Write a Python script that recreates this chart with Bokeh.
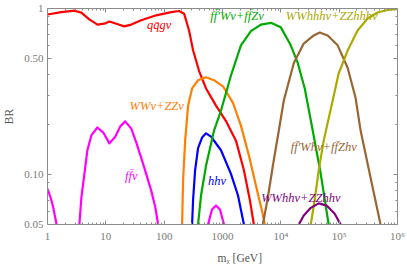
import math
from bokeh.plotting import figure
from bokeh.models import Range1d, FixedTicker, LogAxis, Label
from bokeh.embed import file_html
from bokeh.resources import INLINE

NaN = float("nan")

# ---- data (mass in GeV, branching ratio) ----
m_qqg = [1, 1.73, 2.9, 3.8, 5.2, 7.2, 9.4, 11.5, 15.1, 20.7, 27.3, 40.4, 73, 132, 180,
         220, 267, 313, 397, 522, 774, 1148, 1700, 2330, 2950, 3450]
br_qqg = [0.92, 0.95, 0.97, 0.945, 0.86, 0.80, 0.81, 0.835, 0.81, 0.78, 0.80, 0.85, 0.91, 0.95, 0.966,
          0.93, 0.737, 0.56, 0.42, 0.33, 0.26, 0.21, 0.16, 0.106, 0.070, 0.05]

m_ww = [203, 211, 229, 257, 301, 381, 522, 716, 1020, 1513, 2070, 2840, 3740, 4730, 5320]
br_ww = [0.05, 0.092, 0.16, 0.26, 0.33, 0.37, 0.385, 0.37, 0.34, 0.27, 0.197, 0.13, 0.086, 0.061, 0.05]

m_ffv = [1, 1.17, 1.27, 1.43, NaN,
         3.52, 3.81, 4.29, 4.83, 5.65, 7.16, 9.06, 11.5, 14.5, 17.7, 21.5, 27.3, 33.2, 40.4, 49.2, 60, 70.2, 78.9, NaN,
         565, 661, 774, 906, 1061]
br_ffv = [0.082, 0.070, 0.062, 0.05, NaN,
          0.05, 0.0727, 0.101, 0.14, 0.172, 0.192, 0.179, 0.154, 0.169, 0.195, 0.209, 0.189, 0.156, 0.126, 0.101, 0.080, 0.064, 0.05, NaN,
          0.05, 0.0615, 0.065, 0.0615, 0.05]

m_hhv = [301, 313, 339, 381, 446, 522, 636, 943, 1396, 1840, 2330]
br_hhv = [0.05, 0.07, 0.106, 0.144, 0.167, 0.177, 0.169, 0.14, 0.101, 0.075, 0.05]

m_ffw = [381, 429, 522, 716, 943, 1396, 2070, 3070, 4550, 6740, 10000, 14800, 19500, 25700, 35200, 48300, 66100]
br_ffw = [0.05, 0.075, 0.113, 0.184, 0.243, 0.395, 0.60, 0.73, 0.80, 0.82, 0.77, 0.60, 0.47, 0.33, 0.184, 0.101, 0.05]

m_ffwh = [4920, 6000, 7300, 9240, 11250, 16700, 24700, 36600, 46400, 63600, 94200, 139600, 191000, 233000, 345000, 512000]
br_ffwh = [0.05, 0.073, 0.113, 0.184, 0.279, 0.47, 0.615, 0.688, 0.717, 0.688, 0.60, 0.44, 0.29, 0.184, 0.096, 0.05]

m_wwhhh = [32600, 38000, 44600, 54300, 77400, 98000, 139600, 207000, 307000, 455000, 675000, 1000000]
br_wwhhh = [0.05, 0.070, 0.106, 0.16, 0.279, 0.406, 0.558, 0.737, 0.87, 0.946, 0.98, 0.993]

m_wwhh = [20300, 24700, 32600, 44600, 61100, 83800, 106000]
br_wwhh = [0.05, 0.0566, 0.063, 0.067, 0.065, 0.058, 0.05]

x_ticks = [1, 10, 100, 1000, 10000, 100000, 1000000]
x_tick_labels = ["1", "10", "100", "1000", "10\u2074", "10\u2075", "10\u2076"]
y_ticks = [0.05, 0.1, 0.5, 1]
y_tick_labels = ["0.05", "0.10", "0.50", "1"]

# ---- styling ----
FONT = "Liberation Serif"
GRAY = "#8c8c8c"
LBL = "#7a7a7a"
TITLE = "#555555"

series = [
    (m_qqg, br_qqg, "#ff0000", "qq\u0304gν", 82, 0.79),
    (m_ww, br_ww, "#ff8000", "WWν+ZZν", 74.5, 0.257),
    (m_ffv, br_ffv, "#ff00ff", "ff\u0304ν", 27.3, 0.0986),
    (m_hhv, br_hhv, "#0000ff", "hhν", 805, 0.092),
    (m_ffw, br_ffw, "#00aa00", "ff\u0304\u2032Wν+ff\u0304Zν", 1770, 0.907),
    (m_ffwh, br_ffwh, "#996633", "ff\u0304\u2032Whν+ff\u0304Zhν", 54300, 0.1455),
    (m_wwhhh, br_wwhhh, "#aaaa00", "WWhhhν+ZZhhhν", 74500, 0.907),
    (m_wwhh, br_wwhh, "#800080", "WWhhν+ZZhhν", 22000, 0.0727),
]

p = figure(width=407, height=268, x_axis_type="log", y_axis_type="log",
           x_range=Range1d(1, 1e6), y_range=Range1d(0.05, 1),
           output_backend="svg", toolbar_location=None,
           min_border_left=46, min_border_right=10, min_border_top=8, min_border_bottom=44)
p.outline_line_color = None
p.xgrid.grid_line_color = None
p.ygrid.grid_line_color = None
p.background_fill_color = "white"
p.border_fill_color = "white"

x_minor = [k * 10 ** d for d in range(0, 6) for k in range(2, 10)]
y_minor = [0.06, 0.07, 0.08, 0.09, 0.2, 0.3, 0.4, 0.6, 0.7, 0.8, 0.9]

def style(ax, ticks, minor, labels=None, show=True):
    ax.ticker = FixedTicker(ticks=ticks, minor_ticks=minor)
    ax.axis_line_color = GRAY
    ax.major_tick_line_color = GRAY
    ax.minor_tick_line_color = GRAY
    ax.major_tick_in = 4
    ax.major_tick_out = 0
    ax.minor_tick_in = 2
    ax.minor_tick_out = 0
    ax.major_label_text_font = FONT
    ax.major_label_text_color = LBL
    ax.axis_label_text_font = FONT
    ax.axis_label_text_color = TITLE
    ax.axis_label_text_font_size = "11.5px"
    ax.axis_label_text_font_style = "normal"
    if show:
        ax.major_label_text_font_size = "11px"
        ax.major_label_overrides = {float(t): l for t, l in zip(ticks, labels)}
    else:
        ax.major_label_text_font_size = "1px"
        ax.major_label_overrides = {float(t): "" for t in ticks}
        ax.major_label_standoff = 0

xa = p.xaxis[0]
style(xa, x_ticks, x_minor, x_tick_labels)
xa.major_label_standoff = 5
xa.axis_label = "\u2003\u2003\u2003m\u1d6a [GeV]"
xa.axis_label_standoff = 7

ya = p.yaxis[0]
style(ya, y_ticks, y_minor, y_tick_labels)
ya.major_label_standoff = 4
ya.axis_label = "BR"
ya.axis_label_standoff = 6

top = LogAxis()
style(top, x_ticks, x_minor, show=False)
p.add_layout(top, "above")
right = LogAxis()
style(right, y_ticks, y_minor, show=False)
p.add_layout(right, "right")

for mx, br, col, name, lx, ly in series:
    p.line(mx, br, line_color=col, line_width=2.2, line_join="round")
    p.add_layout(Label(x=lx, y=ly, text=name, text_color=col, text_font=FONT,
                       text_font_style="italic", text_font_size="12.5px",
                       text_align="center", text_baseline="middle"))

open("out.html", "w").write(file_html(p, INLINE))
